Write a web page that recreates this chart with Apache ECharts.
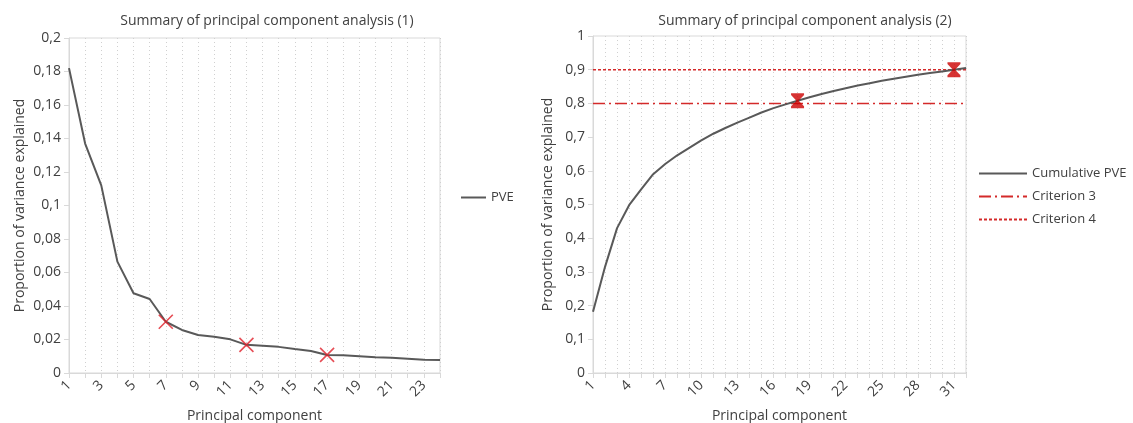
<!DOCTYPE html>
<html>
<head>
<meta charset="utf-8">
<script src="https://cdn.jsdelivr.net/npm/echarts@6/dist/echarts.min.js"></script>
<style>
  html, body { margin: 0; padding: 0; background: #fff; }
  #chart { width: 1133px; height: 423px; }
</style>
</head>
<body>
<div id="chart"></div>
<script>
// Proportion of variance explained by each principal component
const pveComponents = ['1','2','3','4','5','6','7','8','9','10','11','12','13','14','15','16','17','18','19','20','21','22','23','24'];
const pveValues = [0.182, 0.137, 0.112, 0.0665, 0.0476, 0.0442, 0.0306, 0.0257, 0.0227, 0.0217, 0.0201, 0.0168,
                   0.0163, 0.0156, 0.0143, 0.0131, 0.0108, 0.0106, 0.0100, 0.0094, 0.0091, 0.0085, 0.0079, 0.0077];
// Components flagged on the scree curve
const pveFlagged = ['7', '12', '17'];

// Cumulative proportion of variance explained
const cumComponents = ['1','2','3','4','5','6','7','8','9','10','11','12','13','14','15','16',
                       '17','18','19','20','21','22','23','24','25','26','27','28','29','30','31','32'];
const cumValues = [0.182, 0.315, 0.430, 0.498, 0.545, 0.590, 0.620, 0.646, 0.668, 0.690, 0.710, 0.727,
                   0.743, 0.758, 0.773, 0.786, 0.797, 0.808, 0.818, 0.828, 0.837, 0.845, 0.853, 0.860,
                   0.867, 0.873, 0.879, 0.885, 0.890, 0.895, 0.900, 0.905];
// Components where each criterion threshold is reached
const cumFlagged = ['18', '31'];
// Criterion thresholds
const criterion3 = 0.8;
const criterion4 = 0.9;

const FONT = 'Open Sans';
const TEXT = '#404040';
const AXIS = '#d9d9d9';
const LINE = '#595959';
const RED = '#d42a2a';

const comma = v => String(v).replace('.', ',');

function lookup(cats, vals, keys) {
  return keys.map(k => [k, vals[cats.indexOf(k)]]);
}

function xAxis(gridIndex, cats, labelInterval) {
  return {
    type: 'category', gridIndex, data: cats, boundaryGap: false,
    name: 'Principal component', nameLocation: 'middle', nameGap: 36,
    nameTextStyle: { fontFamily: FONT, fontSize: 14, color: TEXT },
    axisLine: { lineStyle: { color: AXIS, width: 1 } },
    axisTick: { show: true, interval: 0, length: 5, lineStyle: { color: AXIS } },
    axisLabel: { interval: labelInterval, rotate: 45, fontFamily: FONT, fontSize: 14, color: TEXT, margin: 10 },
    splitLine: { show: true, interval: 0, lineStyle: { color: '#d0d0d0', type: [1, 3], width: 1 } }
  };
}

function yAxis(gridIndex, max, interval, nameGap) {
  return {
    type: 'value', gridIndex, min: 0, max, interval,
    name: 'Proportion of variance explained', nameLocation: 'middle', nameGap,
    nameTextStyle: { fontFamily: FONT, fontSize: 14, color: TEXT },
    axisLine: { show: true, lineStyle: { color: AXIS } },
    axisTick: { show: true, length: 5, lineStyle: { color: AXIS } },
    axisLabel: { fontFamily: FONT, fontSize: 14, color: TEXT, margin: 8, formatter: comma },
    splitLine: { show: false }
  };
}

const legendText = { fontFamily: FONT, fontSize: 13, color: TEXT };
// Legend shows only the line stroke, no point symbol
const legendItem = { opacity: 0 };

const chart = echarts.init(document.getElementById('chart'), null, { renderer: 'canvas' });

chart.setOption({
  animation: false,
  backgroundColor: '#fff',
  title: [
    { text: 'Summary of principal component analysis (1)', left: 262, top: 9, textAlign: 'center',
      textStyle: { fontFamily: FONT, fontSize: 14, fontWeight: 'normal', color: TEXT } },
    { text: 'Summary of principal component analysis (2)', left: 800, top: 9, textAlign: 'center',
      textStyle: { fontFamily: FONT, fontSize: 14, fontWeight: 'normal', color: TEXT } }
  ],
  legend: [
    { data: ['PVE'], left: 455, top: 186, itemWidth: 25, itemHeight: 14, itemGap: 4,
      itemStyle: legendItem, textStyle: legendText },
    { data: ['Cumulative PVE', 'Criterion 3', 'Criterion 4'], orient: 'vertical', left: 973, top: 162,
      itemWidth: 48, itemHeight: 14, itemGap: 10,
      itemStyle: legendItem, textStyle: legendText }
  ],
  grid: [
    { left: 69, top: 38, width: 371, height: 335, show: true, borderColor: AXIS, borderWidth: 1,
      containLabel: false, outerBoundsMode: 'none' },
    { left: 593, top: 36, width: 373, height: 337, show: true, borderColor: AXIS, borderWidth: 1,
      containLabel: false, outerBoundsMode: 'none' }
  ],
  xAxis: [xAxis(0, pveComponents, 1), xAxis(1, cumComponents, 2)],
  yAxis: [yAxis(0, 0.2, 0.02, 42), yAxis(1, 1, 0.1, 38)],
  series: [
    { name: 'PVE', type: 'line', xAxisIndex: 0, yAxisIndex: 0, data: pveValues,
      symbol: 'none', lineStyle: { color: LINE, width: 2 }, itemStyle: { color: LINE } },
    { name: 'pve-flags', type: 'scatter', xAxisIndex: 0, yAxisIndex: 0,
      data: lookup(pveComponents, pveValues, pveFlagged),
      symbol: 'path://M0,0 L10,10 M10,0 L0,10', symbolSize: 14,
      itemStyle: { color: 'transparent', borderColor: '#e0202a', borderWidth: 1.6 }, z: 5 },

    { name: 'Criterion 3', type: 'line', xAxisIndex: 1, yAxisIndex: 1,
      data: [[cumComponents[0], criterion3], [cumComponents[cumComponents.length - 1], criterion3]],
      symbol: 'none', lineStyle: { color: RED, width: 1.5, type: [12, 4, 2, 4] }, itemStyle: { color: RED } },
    { name: 'Criterion 4', type: 'line', xAxisIndex: 1, yAxisIndex: 1,
      data: [[cumComponents[0], criterion4], [cumComponents[cumComponents.length - 1], criterion4]],
      symbol: 'none', lineStyle: { color: RED, width: 1.5, type: [3, 2] }, itemStyle: { color: RED } },
    { name: 'Cumulative PVE', type: 'line', xAxisIndex: 1, yAxisIndex: 1, data: cumValues,
      symbol: 'none', lineStyle: { color: LINE, width: 2 }, itemStyle: { color: LINE }, z: 3 },
    { name: 'cum-flags', type: 'scatter', xAxisIndex: 1, yAxisIndex: 1,
      data: lookup(cumComponents, cumValues, cumFlagged),
      symbol: 'path://M0,0 L12,0 L12,2 L7,8 L12,14 L12,16 L0,16 L0,14 L5,8 L0,2 Z', symbolSize: [13, 15],
      itemStyle: { color: '#cc0000' }, z: 5 }
  ]
});
</script>
</body>
</html>
